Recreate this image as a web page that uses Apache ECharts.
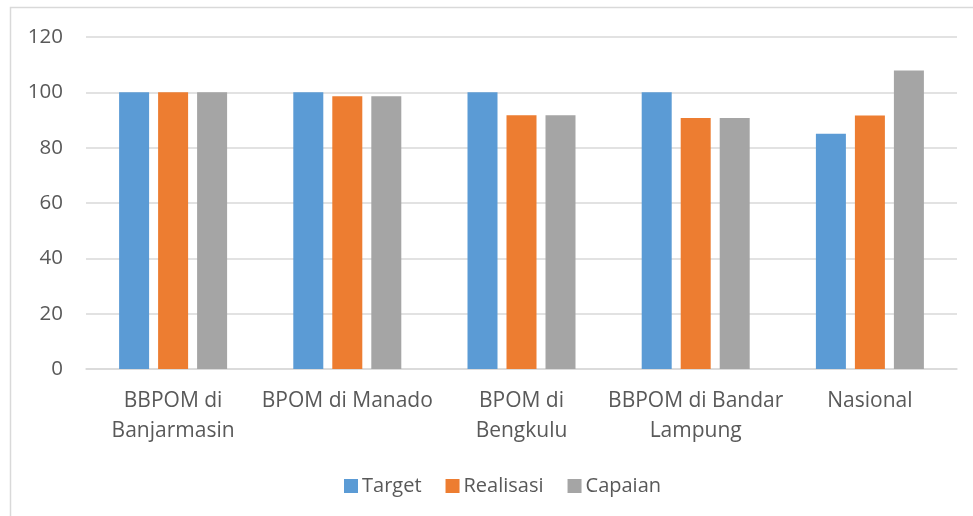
<!DOCTYPE html>
<html lang="en">
<head>
    <meta charset="UTF-8">
    <title>Target, Realisasi, Capaian</title>
    <script src="https://cdn.jsdelivr.net/npm/echarts@6/dist/echarts.min.js"></script>
</head>
<body style="margin:0;background:#fff;">

<div id="main" style="width: 973px; height: 516px;"></div>
<script>
    var categories = ['BBPOM di\nBanjarmasin', 'BPOM di Manado', 'BPOM di\nBengkulu', 'BBPOM di Bandar\nLampung', 'Nasional'];
    var target = [100, 100, 100, 100, 85];
    var realisasi = [100, 98.6, 91.7, 90.7, 91.6];
    var capaian = [100, 98.6, 91.7, 90.7, 107.9];
    var yTicks = [0, 20, 40, 60, 80, 100, 120];

    var txt = '#595959';
    var font = 'Open Sans';

    var mychart = echarts.init(document.getElementById('main'));

    mychart.setOption({
        animation: false,
        backgroundColor: '#fff',
        textStyle: { fontFamily: font },
        graphic: [{
            type: 'rect',
            shape: { x: 10.5, y: 7.5, width: 1000, height: 560 },
            style: { fill: 'none', stroke: '#d9d9d9', lineWidth: 1.5 },
            silent: true
        }],
        grid: { left: 86, right: 16, top: 37, bottom: 147 },
        legend: {
            data: ['Target', 'Realisasi', 'Capaian'],
            left: 339,
            top: 471,
            itemWidth: 14,
            itemHeight: 14,
            itemGap: 24,
            icon: 'rect',
            textStyle: { color: txt, fontSize: 20, fontFamily: font, padding: [0, 0, 0, -1] }
        },
        xAxis: {
            type: 'category',
            data: categories,
            axisTick: { show: false },
            axisLine: { lineStyle: { color: '#d9d9d9', width: 1.5 } },
            axisLabel: { color: txt, fontSize: 21, lineHeight: 30, margin: 17, interval: 0 }
        },
        yAxis: {
            type: 'value',
            min: yTicks[0],
            max: yTicks[yTicks.length - 1],
            interval: 20,
            axisLine: { show: false },
            axisTick: { show: false },
            splitLine: { lineStyle: { color: '#d9d9d9', width: 1.5 } },
            axisLabel: { color: txt, fontSize: 20.5, margin: 23 }
        },
        series: [
            { name: 'Target', type: 'bar', data: target, barWidth: 30, barGap: '30%',
              itemStyle: { color: '#5B9BD5' } },
            { name: 'Realisasi', type: 'bar', data: realisasi, barWidth: 30, barGap: '30%',
              itemStyle: { color: '#ED7D31' } },
            { name: 'Capaian', type: 'bar', data: capaian, barWidth: 30, barGap: '30%',
              itemStyle: { color: '#A5A5A5' } }
        ]
    });
</script>

</body>
</html>
